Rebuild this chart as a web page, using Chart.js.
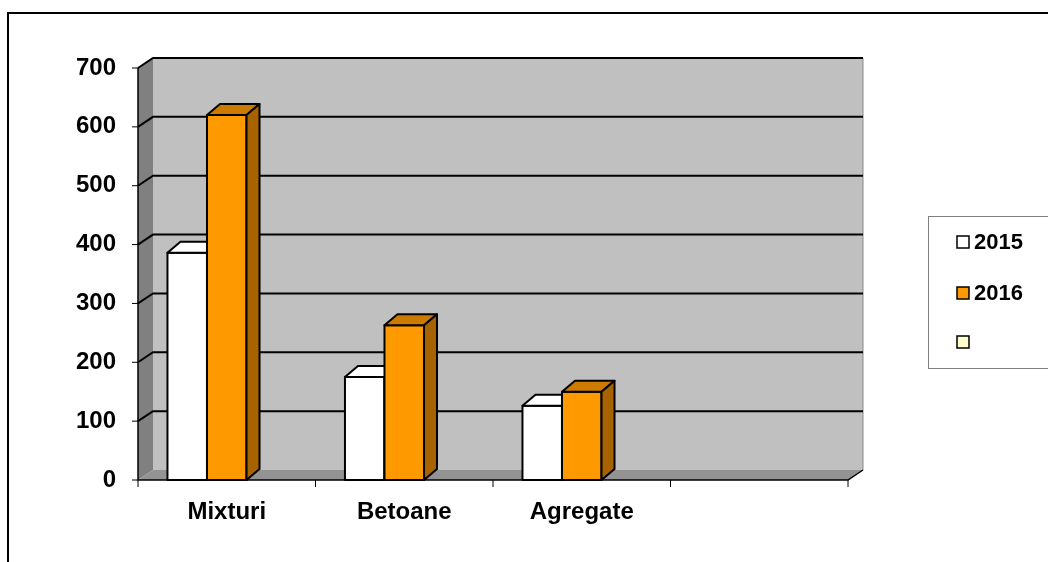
<!DOCTYPE html>
<html>
<head>
<meta charset="utf-8">
<script src="https://cdn.jsdelivr.net/npm/chart.js@4.4.1/dist/chart.umd.min.js"></script>
<style>
html,body{margin:0;padding:0;background:#fff;overflow:hidden;}
canvas{display:block;}
</style>
</head>
<body>
<canvas id="c" width="1048" height="562"></canvas>
<script>
// ---- data ----
const categories = ["Mixturi", "Betoane", "Agregate", ""];
const series2015 = [386, 175, 126, null];
const series2016 = [620, 263, 150, null];
const series3 = [null, null, null, null];
const seriesNames = ["2015", "2016", ""];
const yTicks = [0, 100, 200, 300, 400, 500, 600, 700];

const FONT = {family: "'Liberation Sans', Arial, sans-serif", size: 24, weight: "bold"};
const WALL = {dx: 15, dy: -10};
const BAR = {dx: 13, dy: -11};

const threeD = {
  id: 'threeD',
  beforeDraw(chart) {
    const ctx = chart.ctx;
    ctx.save();
    ctx.fillStyle = '#fff';
    ctx.fillRect(0, 0, chart.width, chart.height);
    ctx.strokeStyle = '#000';
    ctx.lineWidth = 2;
    ctx.strokeRect(8, 13, 1100, 700);
    ctx.restore();
  },
  beforeDatasetsDraw(chart) {
    const ctx = chart.ctx;
    const a = chart.chartArea;
    const ys = chart.scales.y;
    const L = a.left, R = a.right, T = ys.getPixelForValue(700), B = ys.getPixelForValue(0);
    const dx = WALL.dx, dy = WALL.dy;
    ctx.save();
    // back wall
    ctx.fillStyle = '#c0c0c0';
    ctx.fillRect(L + dx, T + dy, R - L, B - T);
    ctx.strokeStyle = '#8a8a8a';
    ctx.lineWidth = 1;
    ctx.beginPath();
    ctx.moveTo(R + dx, T + dy); ctx.lineTo(R + dx, B + dy);
    ctx.stroke();
    // left wall
    ctx.fillStyle = '#808080';
    ctx.beginPath();
    ctx.moveTo(L, T); ctx.lineTo(L + dx, T + dy); ctx.lineTo(L + dx, B + dy); ctx.lineTo(L, B);
    ctx.closePath(); ctx.fill();
    // floor
    ctx.fillStyle = '#939393';
    ctx.beginPath();
    ctx.moveTo(L, B); ctx.lineTo(L + dx, B + dy); ctx.lineTo(R + dx, B + dy); ctx.lineTo(R, B);
    ctx.closePath(); ctx.fill();
    // gridlines
    ctx.strokeStyle = '#000';
    ctx.lineWidth = 2;
    yTicks.forEach(v => {
      if (v === 0) return;
      const y = ys.getPixelForValue(v);
      ctx.beginPath();
      ctx.moveTo(L, y); ctx.lineTo(L + dx, y + dy); ctx.lineTo(R + dx, y + dy);
      ctx.stroke();
    });
    // axes
    ctx.lineWidth = 1.5;
    ctx.beginPath();
    ctx.moveTo(L, T); ctx.lineTo(L, B); ctx.lineTo(R, B); ctx.lineTo(R + dx, B + dy);
    ctx.stroke();
    ctx.lineWidth = 1;
    yTicks.forEach(v => {
      const y = ys.getPixelForValue(v);
      ctx.beginPath(); ctx.moveTo(L - 6, y); ctx.lineTo(L, y); ctx.stroke();
    });
    const n = categories.length;
    for (let i = 0; i <= n; i++) {
      const x = L + (R - L) * i / n;
      ctx.beginPath(); ctx.moveTo(x, B); ctx.lineTo(x, B + 7); ctx.stroke();
    }
    ctx.restore();
  },
  afterDatasetsDraw(chart) {
    const ctx = chart.ctx;
    ctx.save();
    ctx.strokeStyle = '#000';
    ctx.lineWidth = 2;
    ctx.lineJoin = 'round';
    chart.data.datasets.forEach((ds, di) => {
      const meta = chart.getDatasetMeta(di);
      meta.data.forEach((el, i) => {
        if (ds.data[i] === null || ds.data[i] === undefined) return;
        const w = el.width, l = el.x - w / 2, r = el.x + w / 2, t = el.y, b = el.base;
        // front
        ctx.fillStyle = ds.backgroundColor;
        ctx.fillRect(l, t, w, b - t);
        ctx.strokeRect(l, t, w, b - t);
        // top
        ctx.fillStyle = ds.topColor;
        ctx.beginPath();
        ctx.moveTo(l, t); ctx.lineTo(l + BAR.dx, t + BAR.dy); ctx.lineTo(r + BAR.dx, t + BAR.dy); ctx.lineTo(r, t);
        ctx.closePath(); ctx.fill(); ctx.stroke();
        // side
        ctx.fillStyle = ds.sideColor;
        ctx.beginPath();
        ctx.moveTo(r, t); ctx.lineTo(r + BAR.dx, t + BAR.dy); ctx.lineTo(r + BAR.dx, b + BAR.dy); ctx.lineTo(r, b);
        ctx.closePath(); ctx.fill(); ctx.stroke();
      });
    });
    ctx.restore();
  },
  afterDraw(chart) {
    const ctx = chart.ctx;
    ctx.save();
    // legend box
    ctx.fillStyle = '#fff';
    ctx.fillRect(928, 216, 200, 152);
    ctx.strokeStyle = '#808080';
    ctx.lineWidth = 1;
    ctx.strokeRect(928.5, 216.5, 200, 152);
    const rows = [242, 293, 342];
    ctx.font = `bold 22px ${FONT.family}`;
    ctx.textBaseline = 'middle';
    ctx.textAlign = 'left';
    chart.data.datasets.forEach((ds, i) => {
      const y = rows[i];
      ctx.fillStyle = ds.backgroundColor;
      ctx.fillRect(957, y - 6, 12, 12);
      ctx.strokeStyle = '#000';
      ctx.lineWidth = 1.5;
      ctx.strokeRect(957, y - 6, 12, 12);
      ctx.fillStyle = '#000';
      ctx.fillText(seriesNames[i], 974, y + 1);
    });
    ctx.restore();
  }
};

new Chart(document.getElementById('c'), {
  type: 'bar',
  data: {
    labels: categories,
    datasets: [
      {label: seriesNames[0], data: series2015, backgroundColor: '#ffffff', topColor: '#ffffff', sideColor: '#d0d0d0', borderColor: '#000', borderWidth: 0},
      {label: seriesNames[1], data: series2016, backgroundColor: '#ff9900', topColor: '#cc7a00', sideColor: '#a66300', borderColor: '#000', borderWidth: 0},
      {label: seriesNames[2], data: series3, backgroundColor: '#ffffcc', topColor: '#ffffa3', sideColor: '#cccca3', borderColor: '#000', borderWidth: 0}
    ]
  },
  options: {
    responsive: false,
    animation: false,
    devicePixelRatio: 1,
    categoryPercentage: 0.668,
    barPercentage: 1,
    layout: {padding: {left: 0, top: 68, right: 200, bottom: 0}},
    plugins: {legend: {display: false}, tooltip: {enabled: false}},
    scales: {
      x: {
        grid: {display: false, drawTicks: false},
        border: {display: false},
        ticks: {color: '#000', font: FONT, padding: 18, maxRotation: 0, autoSkip: false},
        afterFit(s) { s.height = 82; }
      },
      y: {
        min: 0, max: 700,
        grid: {display: false, drawTicks: false},
        border: {display: false},
        afterBuildTicks(s) { s.ticks = yTicks.map(v => ({value: v})); },
        ticks: {color: '#000', font: FONT, padding: 22},
        afterFit(s) { s.width = 138; }
      }
    }
  },
  plugins: [threeD]
});
</script>
</body>
</html>
